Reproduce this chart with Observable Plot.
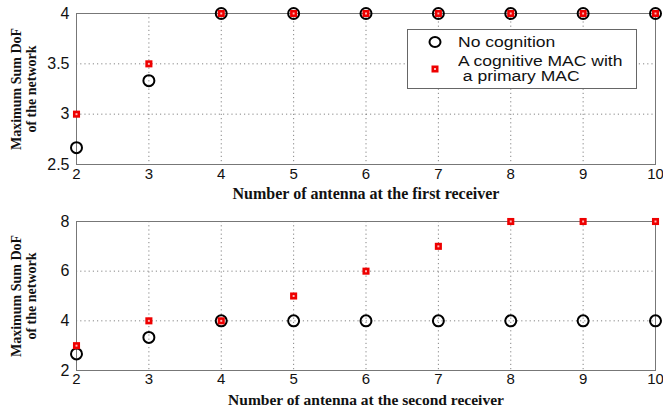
<!DOCTYPE html>
<html><head><meta charset="utf-8">
<script src="https://cdn.jsdelivr.net/npm/d3@7"></script>
<script src="https://cdn.jsdelivr.net/npm/@observablehq/plot@0.6"></script>
<style>
body{margin:0;background:#fff;}
#wrap{position:relative;width:663px;height:409px;}
#legend{position:absolute;left:407px;top:29px;width:228px;height:58px;border:1px solid #666;background:#fff;font-family:"Liberation Sans",Arial,sans-serif;font-size:14px;color:#111;}
#legend .t{position:absolute;white-space:nowrap;line-height:14px;transform:scaleX(1.25);transform-origin:0 50%;}
</style>
</head><body>
<div id="wrap"><div id="c1"></div><div id="c2"></div>
<div id="legend">
<svg width="228" height="58" style="position:absolute;left:0;top:0">
<ellipse cx="27" cy="12" rx="5.5" ry="5" fill="none" stroke="#000" stroke-width="2"/>
<rect x="23.5" y="35.5" width="7" height="7" fill="#e00"/>
<rect x="26" y="38" width="2" height="2" fill="#fbb"/>
</svg>
<span class="t" style="left:50px;top:5px">No cognition</span>
<span class="t" style="left:50px;top:24px">A cognitive MAC with</span>
<span class="t" style="left:50px;top:39px">&nbsp;a primary MAC</span>
</div>
</div>
<script>
const antennas = [2,3,4,5,6,7,8,9,10];
const noCog1 = [2.667,3.333,4,4,4,4,4,4,4];
const cogMac1 = [3,3.5,4,4,4,4,4,4,4];
const noCog2 = [2.667,3.333,4,4,4,4,4,4,4];
const cogMac2 = [3,4,4,5,6,7,8,8,8];
const yTicks1 = [2.5,3,3.5,4];
const yTicks2 = [2,4,6,8];
const xLabel1 = "Number of antenna at the first receiver";
const xLabel2 = "Number of antenna at the second receiver";
const yLabel = "Maximum Sum DoF\nof the network";

function chart(noCog, cogMac, yDomain, yTicks, xLabel, opts){
  const d1 = antennas.map((a,i)=>({x:a,y:noCog[i]}));
  const d2 = antennas.map((a,i)=>({x:a,y:cogMac[i]}));
  return Plot.plot({
    width:663, height:opts.height,
    marginLeft:76, marginRight:8, marginTop:opts.mt, marginBottom:opts.mb,
    style:{fontFamily:"Liberation Sans, Arial, sans-serif", fontSize:"14px", color:"#111", background:"#fff"},
    x:{domain:[2,10]},
    y:{domain:yDomain},
    marks:[
      Plot.gridX(antennas,{stroke:"#666",strokeOpacity:0.8,strokeDasharray:"1.2,3"}),
      Plot.gridY(yTicks,{stroke:"#666",strokeOpacity:0.8,strokeDasharray:"1.2,3"}),
      Plot.frame({stroke:"#777"}),
      Plot.axisX({ticks:antennas,tickSize:0,tickPadding:opts.tp,label:null,fontSize:opts.tf,tickFormat:d=>String(d)}),
      Plot.axisY({ticks:yTicks,tickSize:0,tickPadding:7,label:null,fontSize:16,tickFormat:d=>String(d)}),
      Plot.dot(d1,{x:"x",y:"y",r:5.5,stroke:"#000",strokeWidth:2,fill:"none"}),
      Plot.dot(d2,{x:"x",y:"y",symbol:"square",r:4,fill:"#e00"}),
      Plot.dot(d2,{x:"x",y:"y",symbol:"square",r:1.1,fill:"#fbb"}),
      Plot.text([xLabel],{text:d=>d,frameAnchor:"bottom",dy:opts.xdy,lineAnchor:"middle",textAnchor:"middle",fontFamily:"Liberation Serif, Times New Roman, serif",fontWeight:"bold",fontSize:opts.lf}),
      Plot.text([yLabel],{text:d=>d,frameAnchor:"left",dx:-53,rotate:-90,textAnchor:"middle",lineAnchor:"middle",fontFamily:"Liberation Serif, Times New Roman, serif",fontWeight:"bold",fontSize:14,lineHeight:1.1})
    ]
  });
}
document.getElementById("c1").append(chart(noCog1,cogMac1,[2.5,4],yTicks1,xLabel1,{height:205,mt:13,mb:41,xdy:29.5,tp:4,tf:15,lf:16}));
document.getElementById("c2").append(chart(noCog2,cogMac2,[2,8],yTicks2,xLabel2,{height:204,mt:16,mb:39,xdy:29.5,tp:3,tf:15,lf:15.5}));
</script>
</body></html>
